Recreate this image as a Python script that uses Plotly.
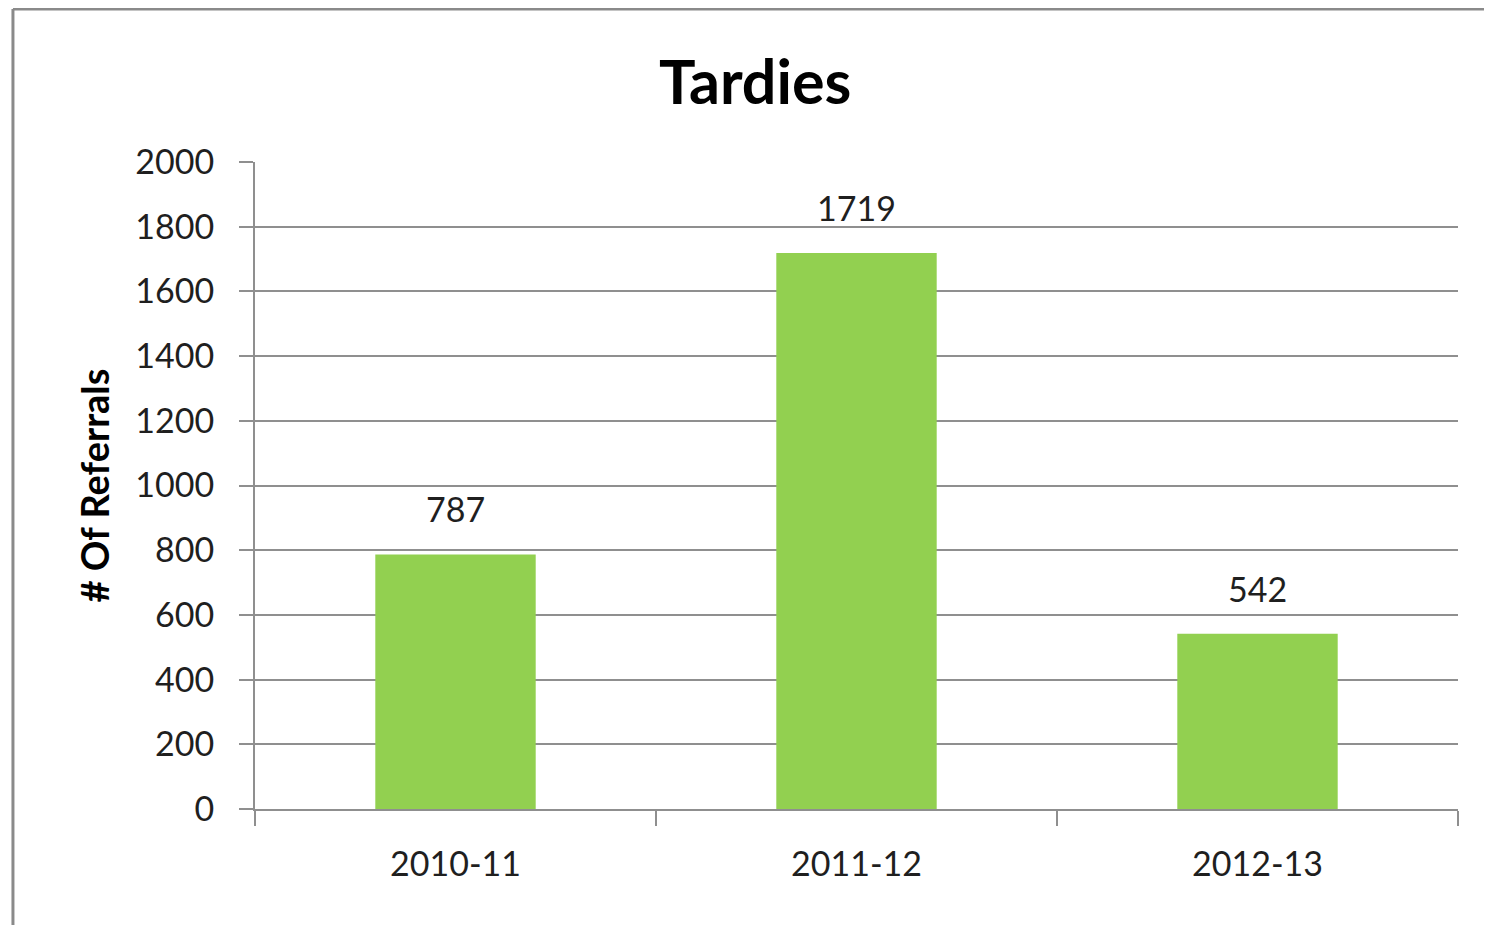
import plotly.graph_objects as go

years = ["2010-11", "2011-12", "2012-13"]
tardies = [787, 1719, 542]
y_ticks = list(range(0, 2001, 200))

BAR = "#92D050"
GRID = "#8f8f8f"
TXT = "#1f1f1f"
FONT = "Lato"

fig = go.Figure(go.Bar(
    x=years, y=tardies,
    marker=dict(color=BAR, line=dict(width=0)),
    width=0.4, hoverinfo="x+y",
))

for yr, v in zip(years, tardies):
    fig.add_annotation(x=yr, y=v, text=str(v), showarrow=False, yanchor="bottom",
                       yshift=23, font=dict(family=FONT, size=34, color=TXT))

fig.update_layout(
    width=1484, height=917,
    paper_bgcolor="white", plot_bgcolor="white",
    margin=dict(l=247, r=34, t=154, b=116),
    showlegend=False,
    title=dict(text="<b>Tardies</b>", x=0.5035, xanchor="center", y=0.919, yanchor="middle",
               font=dict(family=FONT, size=61, color="black")),
    xaxis=dict(
        type="category", tickson="boundaries", ticks="outside", ticklen=15,
        tickcolor=GRID, tickwidth=2, showline=True, linecolor=GRID, linewidth=2,
        tickfont=dict(family=FONT, size=34, color=TXT), ticklabelstandoff=24,
        showgrid=False,
    ),
    yaxis=dict(
        range=[0, 2000], tickvals=y_ticks, ticks="outside", ticklen=14,
        tickcolor=GRID, tickwidth=2, showline=True, linecolor=GRID, linewidth=2,
        showgrid=True, gridcolor=GRID, gridwidth=2, zeroline=False,
        tickfont=dict(family=FONT, size=34, color=TXT), ticklabelstandoff=18,
        title=dict(text="<b># Of Referrals</b>", font=dict(family=FONT, size=38, color="black"),
                   standoff=14),
    ),
    shapes=[
        dict(type="line", xref="paper", yref="paper", x0=-0.2012, x1=-0.2012, y0=-0.3, y1=1.2365,
             line=dict(color="#8a8a8a", width=3)),
        dict(type="line", xref="paper", yref="paper", x0=-0.2012, x1=1.05, y0=1.2365, y1=1.2365,
             line=dict(color="#8a8a8a", width=3)),
    ],
)

fig.write_html("out.html")
